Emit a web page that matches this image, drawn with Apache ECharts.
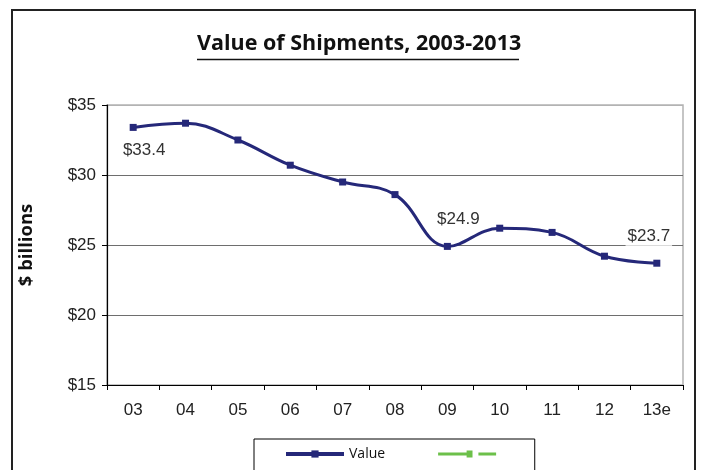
<!DOCTYPE html>
<html>
<head>
<meta charset="utf-8">
<script src="https://cdn.jsdelivr.net/npm/echarts@6/dist/echarts.min.js"></script>
<style>html,body{margin:0;padding:0;background:#fff;}#c{width:704px;height:470px;}</style>
</head>
<body>
<div id="c"></div>
<script>
var categories = ['03','04','05','06','07','08','09','10','11','12','13e'];
var values = [33.4, 33.7, 32.5, 30.7, 29.5, 28.6, 24.9, 26.2, 25.9, 24.2, 23.7];
var secondValues = [];
var yTicks = [15, 20, 25, 30, 35];
var labelledIdx = {0: [11, 23], 6: [11, -27], 10: [-8, -27]};

var lineColor = '#252879';
var chart = echarts.init(document.getElementById('c'), null, {renderer: 'canvas'});

var mainData = values.map(function (v, i) {
  var d = {value: v};
  if (labelledIdx[i]) {
    d.label = {
      show: true, position: 'inside', offset: labelledIdx[i],
      formatter: function (p) { return '$' + p.value.toFixed(1); },
      color: '#333', fontSize: 17, fontFamily: 'Liberation Sans, Arial',
      backgroundColor: i === 10 ? '#fff' : 'transparent', padding: [1, 2]
    };
  }
  return d;
});

chart.setOption({
  animation: false,
  backgroundColor: '#fff',
  title: {
    text: 'Value of Shipments, 2003-2013',
    left: 192, top: 28,
    textStyle: {fontFamily: 'Open Sans', fontWeight: 'bold', fontSize: 21.5, color: '#111'}
  },
  graphic: [
    {type: 'rect', shape: {x: 12, y: 10, width: 683, height: 480}, style: {fill: 'none', stroke: '#222', lineWidth: 2}, z: 100},
    {type: 'line', shape: {x1: 197, y1: 59.5, x2: 519, y2: 59.5}, style: {stroke: '#111', lineWidth: 1.5}}
  ],
  legend: {
    left: 254, top: 439,
    padding: [8, 30, 10, 30],
    borderColor: '#000', borderWidth: 1,
    itemWidth: 58, itemHeight: 9, itemGap: 53,
    textStyle: {fontFamily: 'Open Sans', fontSize: 14, color: '#111'},
    data: [
      {name: 'Value', lineStyle: {width: 4}},
      {name: ' ', icon: 'path://M0,2.5 L29,2.5 L29,0.5 L35,0.5 L35,7.5 L29,7.5 L29,5.5 L0,5.5 Z M41,2.5 L59,2.5 L59,5.5 L41,5.5 Z'}
    ]
  },
  grid: {left: 107, right: 21, top: 105, bottom: 85, show: true, borderColor: '#b3b3b3', borderWidth: 1.5},
  xAxis: {
    type: 'category', data: categories, boundaryGap: true,
    axisLine: {lineStyle: {color: '#000', width: 1.2}},
    axisTick: {show: true, length: 5, lineStyle: {color: '#000'}},
    axisLabel: {margin: 17, fontSize: 17, color: '#222', fontFamily: 'Liberation Sans, Arial'}
  },
  yAxis: {
    type: 'value', min: yTicks[0], max: yTicks[yTicks.length - 1], interval: 5,
    name: '$ billions', nameLocation: 'middle', nameGap: 71, nameRotate: 90,
    nameTextStyle: {fontFamily: 'Open Sans', fontWeight: 'bold', fontSize: 18.5, color: '#111'},
    axisLine: {show: true, lineStyle: {color: '#000', width: 1.2}},
    axisTick: {show: true, length: 5, lineStyle: {color: '#000'}},
    axisLabel: {margin: 11, fontSize: 17, color: '#222', fontFamily: 'Liberation Sans, Arial',
      formatter: function (v) { return '$' + v; }},
    splitLine: {show: true, lineStyle: {color: ['#6e6e6e', '#6e6e6e', '#6e6e6e', '#6e6e6e', '#b3b3b3'], width: 1.2}}
  },
  series: [
    {
      name: 'Value', type: 'line', data: mainData, smooth: 0.4,
      symbol: 'rect', symbolSize: 7,
      lineStyle: {color: lineColor, width: 3},
      itemStyle: {color: lineColor}, z: 5
    },
    {
      name: ' ', type: 'line', data: secondValues,
      symbol: 'rect', symbolSize: 7,
      lineStyle: {color: '#6cc04a', width: 3, type: 'dashed'},
      itemStyle: {color: '#6cc04a'}
    }
  ]
});
</script>
</body>
</html>
